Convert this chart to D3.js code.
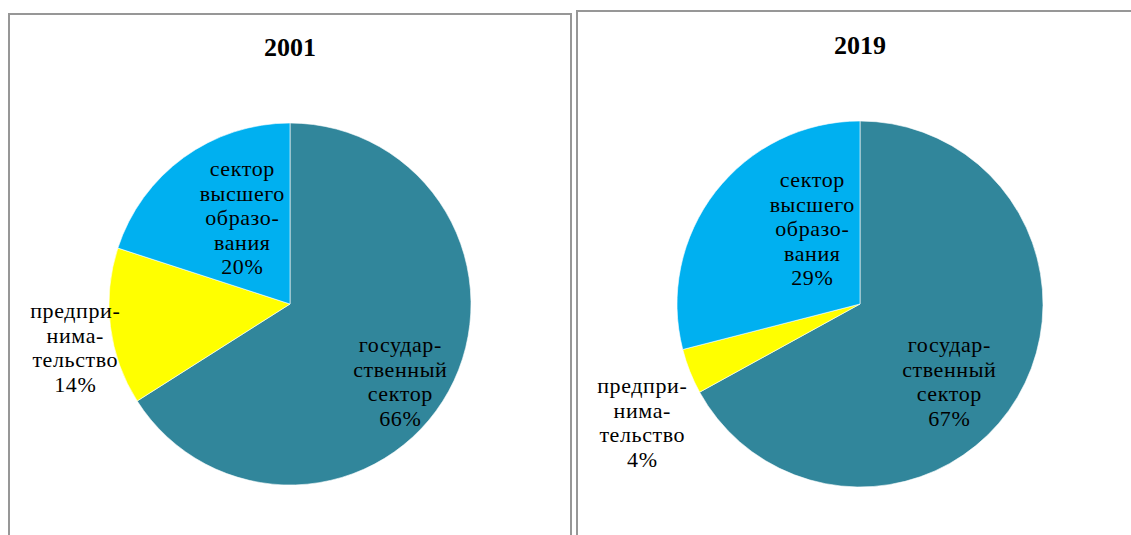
<!DOCTYPE html>
<html><head><meta charset="utf-8">
<script src="https://cdn.jsdelivr.net/npm/d3@7"></script>
<style>body{margin:0;background:#fff}svg{display:block}</style>
</head><body>
<svg id="c" width="1131" height="535"></svg>
<script>
const years = ["2001", "2019"];
const categories = ["государственный сектор", "предпринимательство", "сектор высшего образования"];
const labelLines = [["государ-","ственный","сектор"],["предпри-","нима-","тельство"],["сектор","высшего","образо-","вания"]];
const values2001 = [66, 14, 20];
const values2019 = [67, 4, 29];
const colors = ["#31869b", "#ffff00", "#00b0f0"];

const FONT = "Liberation Serif";
const svg = d3.select("#c");
const panels = [
  {year: years[0], values: values2001, frame:[9,14,562,540], cx:290, cy:304, r:181, titleY:56,
   labels:[{x:400,y:352},{x:75,y:318},{x:242,y:176}]},
  {year: years[1], values: values2019, frame:[577,11,570,540], cx:860, cy:304, r:183, titleY:54,
   labels:[{x:949,y:352},{x:642,y:393},{x:812,y:187}]}
];
const lh = 24.5;
panels.forEach(p => {
  svg.append("rect").attr("x",p.frame[0]).attr("y",p.frame[1]).attr("width",p.frame[2]).attr("height",p.frame[3])
    .attr("fill","none").attr("stroke","#979797").attr("stroke-width",2);
  svg.append("text").attr("x",p.cx).attr("y",p.titleY).attr("text-anchor","middle")
    .style("font-family",FONT).attr("font-weight","bold").attr("font-size",26).text(p.year);
  const pie = d3.pie().sort(null).value(d=>d)(p.values);
  const arc = d3.arc().innerRadius(0).outerRadius(p.r);
  const g = svg.append("g").attr("transform",`translate(${p.cx},${p.cy})`);
  g.selectAll("path").data(pie).join("path").attr("d",arc).attr("fill",(d,i)=>colors[i])
    .attr("stroke","#fff").attr("stroke-width",0.6);
  p.labels.forEach((L,i) => {
    const lines = labelLines[i].concat([p.values[i]+"%"]);
    lines.forEach((s,k)=>svg.append("text").attr("text-anchor","middle")
      .style("font-family",FONT).attr("font-size",22).attr("letter-spacing",0.6).attr("fill","#000")
      .attr("x",L.x+0.3).attr("y",L.y+k*lh).text(s));
  });
});
</script>
</body></html>
